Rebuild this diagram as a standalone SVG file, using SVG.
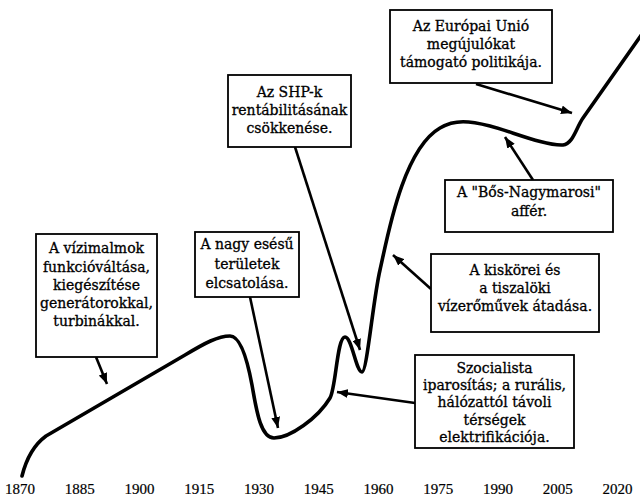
<svg xmlns="http://www.w3.org/2000/svg" width="640" height="499" viewBox="0 0 640 499">
<style>
.box{fill:#fff;stroke:#000;stroke-width:1.8}
.t{font-family:"DejaVu Serif","Liberation Serif",serif;font-size:14px;fill:#000;stroke:#000;stroke-width:0.3;text-anchor:middle}
.yr{font-family:"Liberation Serif",serif;font-size:15px;fill:#000;stroke:#000;stroke-width:0.2;text-anchor:middle}
.arr{stroke:#000;stroke-width:2.6;fill:none;marker-end:url(#ah)}
.curve{stroke:#000;stroke-width:3.6;fill:none;stroke-linecap:round;stroke-linejoin:round}
</style>
<defs>
<marker id="ah" viewBox="0 0 10 8" refX="10" refY="4" markerWidth="11" markerHeight="9" markerUnits="userSpaceOnUse" orient="auto">
<path d="M0,0 L10,4 L0,8 Z" fill="#000"/>
</marker>
</defs>
<rect width="640" height="499" fill="#fff"/>
<g id="curve">
<path class="curve" d="M22,476 C25,464 31,447 46,436 L185,355 C205,343 218,336 230,336 C240,336 247,358 252,385 C256,407 260,438 274,438 C290,438 318,418 330,398 C336,388 337,337 345,337 C352,337 356,372 362,372 C367,372 373,300 380,270 C387,240 402,150 440,128 C455,119 470,121 490,126 C510,131 545,146 563,145 C573,144 576,128 583,118 L642,34"/>
</g>
<g id="connectors">
<line class="arr" x1="96" y1="357" x2="107" y2="384"/>
<line class="arr" x1="250" y1="297" x2="278" y2="428"/>
<line class="arr" x1="295" y1="147" x2="360" y2="350"/>
<line class="arr" x1="476" y1="84" x2="572" y2="113"/>
<line class="arr" x1="533" y1="180" x2="505" y2="137"/>
<line class="arr" x1="431" y1="289" x2="393" y2="255"/>
<line class="arr" x1="415" y1="403" x2="337" y2="392"/>
</g>
<g id="n1">
<rect class="box" x="36" y="234" width="121" height="123"/>
<text class="t" x="96.5" y="253">A vízimalmok</text>
<text class="t" x="96.5" y="272">funkcióváltása,</text>
<text class="t" x="96.5" y="290">kiegészítése</text>
<text class="t" x="96.5" y="308">generátorokkal,</text>
<text class="t" x="96.5" y="326">turbinákkal.</text>
</g>
<g id="n2">
<rect class="box" x="195" y="232" width="104" height="65"/>
<text class="t" x="247" y="249">A nagy esésű</text>
<text class="t" x="247" y="269">területek</text>
<text class="t" x="247" y="288">elcsatolása.</text>
</g>
<g id="n3">
<rect class="box" x="228" y="75" width="123" height="72"/>
<text class="t" x="289.5" y="97">Az SHP-k</text>
<text class="t" x="289.5" y="115">rentábilitásának</text>
<text class="t" x="289.5" y="133">csökkenése.</text>
</g>
<g id="n4">
<rect class="box" x="390" y="10" width="162" height="73"/>
<text class="t" x="471" y="31">Az Európai Unió</text>
<text class="t" x="471" y="49">megújulókat</text>
<text class="t" x="471" y="67">támogató politikája.</text>
</g>
<g id="n5">
<rect class="box" x="445" y="180" width="168" height="52"/>
<text class="t" x="529" y="197">A "Bős-Nagymarosi"</text>
<text class="t" x="529" y="216">affér.</text>
</g>
<g id="n6">
<rect class="box" x="431" y="254" width="168" height="78"/>
<text class="t" x="515" y="275">A kiskörei és</text>
<text class="t" x="515" y="293">a tiszalöki</text>
<text class="t" x="515" y="311">vízerőművek átadása.</text>
</g>
<g id="n7">
<rect class="box" x="415" y="355" width="159" height="93"/>
<text class="t" x="494.5" y="373">Szocialista</text>
<text class="t" x="494.5" y="390">iparosítás; a rurális,</text>
<text class="t" x="494.5" y="407">hálózattól távoli</text>
<text class="t" x="494.5" y="424.5">térségek</text>
<text class="t" x="494.5" y="442">elektrifikációja.</text>
</g>
<g id="axis">
<text class="yr" x="20" y="494">1870</text>
<text class="yr" x="79.75" y="494">1885</text>
<text class="yr" x="139.5" y="494">1900</text>
<text class="yr" x="199.25" y="494">1915</text>
<text class="yr" x="259" y="494">1930</text>
<text class="yr" x="318.75" y="494">1945</text>
<text class="yr" x="378.5" y="494">1960</text>
<text class="yr" x="438.25" y="494">1975</text>
<text class="yr" x="498" y="494">1990</text>
<text class="yr" x="557.75" y="494">2005</text>
<text class="yr" x="617.5" y="494">2020</text>
</g>
</svg>
